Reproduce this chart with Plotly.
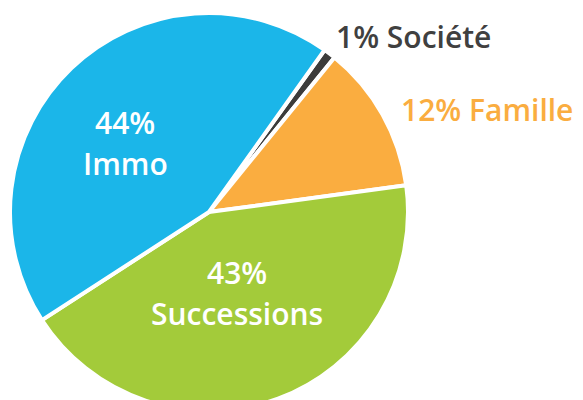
import plotly.graph_objects as go

labels = ["Société", "Famille", "Successions", "Immo"]
values = [1, 12, 43, 44]
colors = ["#3C3C3B", "#FAAD40", "#A3CB3A", "#1BB6E9"]
text_colors = ["#404040", "#FAAD40", "#FFFFFF", "#FFFFFF"]

W, H = 583, 420

fig = go.Figure(go.Pie(
    labels=labels, values=values, sort=False, direction="clockwise", rotation=35.5,
    marker=dict(colors=colors, line=dict(color="white", width=4)),
    textinfo="none", hoverinfo="skip", showlegend=False,
    domain=dict(x=[10 / W, 408 / W], y=[(H - 411) / H, (H - 13) / H]),
))

font = "Open Sans"
# annotation placements (pixel positions from top-left)
placements = [
    (334, 36, "left", False),
    (399, 110, "left", False),
    (237, 293, "center", True),
    (125, 143, "center", True),
]
for (lab, val, tc, (px, py, anchor, two_line)) in zip(labels, values, text_colors, placements):
    if two_line:
        lines = [(f"{val}%", py - 20.5), (lab, py + 20.5)]
    else:
        lines = [(f"{val}% {lab}", py)]
    for txt, yy in lines:
        fig.add_annotation(
            x=px / W, y=(H - yy) / H, xref="paper", yref="paper",
            text=txt, showarrow=False, xanchor=anchor, yanchor="middle", align="center",
            font=dict(family=font, size=30, color=tc, weight=600),
        )

fig.update_layout(
    width=W, height=H, margin=dict(l=0, r=0, t=0, b=0),
    paper_bgcolor="white", plot_bgcolor="white",
)

fig.write_html("out.html", post_script="document.body.style.overflow='hidden';document.documentElement.style.overflow='hidden';document.body.style.margin='0';")
